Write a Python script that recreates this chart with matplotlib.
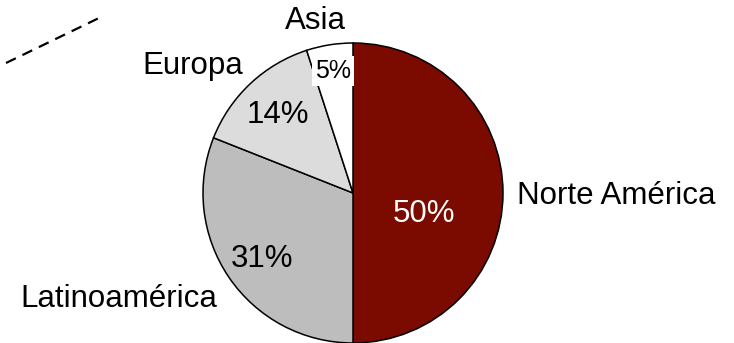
import matplotlib.pyplot as plt

plt.rcParams['font.family'] = ['Liberation Sans', 'DejaVu Sans']

# data
regions = ["Norte América", "Latinoamérica", "Europa", "Asia"]
shares = [50, 31, 14, 5]
colors = ["#7b0a00", "#bdbdbd", "#dcdcdc", "#ffffff"]
pct_colors = ["white", "black", "black", "black"]

# label placement (pixel positions in the 734x343 image)
cx, cy, r = 353, 193, 150
name_pos = [(517, 196, "left"), (217, 299, "right"), (243, 66, "right"), (315, 21, "center")]
pct_pos = [(424, 214), (262, 259), (278, 115), (333, 71)]
pct_size = [22.5, 22.5, 22.5, 18]

fig = plt.figure(figsize=(7.34, 3.43), dpi=100)
ax = fig.add_axes([(cx - r) / 734, (343 - cy - r) / 343, 2 * r / 734, 2 * r / 343])

wedges, _ = ax.pie(shares, colors=colors, startangle=90, counterclock=False,
                   wedgeprops=dict(edgecolor="black", linewidth=1.1))
ax.set_xlim(-1, 1)
ax.set_ylim(-1, 1)
ax.set_aspect("equal")


def to_data(px, py):
    return (px - cx) / r, (cy - py) / r


for name, (px, py, ha) in zip(regions, name_pos):
    x, y = to_data(px, py)
    ax.text(x, y, name, ha=ha, va="center", fontsize=22.5, clip_on=False)

for i, (val, (px, py)) in enumerate(zip(shares, pct_pos)):
    x, y = to_data(px, py)
    kw = {}
    if i == 3:
        kw["bbox"] = dict(facecolor="white", edgecolor="none", pad=2)
    ax.text(x, y, f"{val}%", ha="center", va="center", fontsize=pct_size[i],
            color=pct_colors[i], **kw)

# leftover dashed connector in the top-left corner
fig.add_artist(plt.Line2D([6 / 734, 99 / 734], [1 - 63 / 343, 1 - 18 / 343],
                          color="black", linewidth=1.6, linestyle=(0, (4.9, 3.3))))

fig.savefig("out.png", dpi=100)
